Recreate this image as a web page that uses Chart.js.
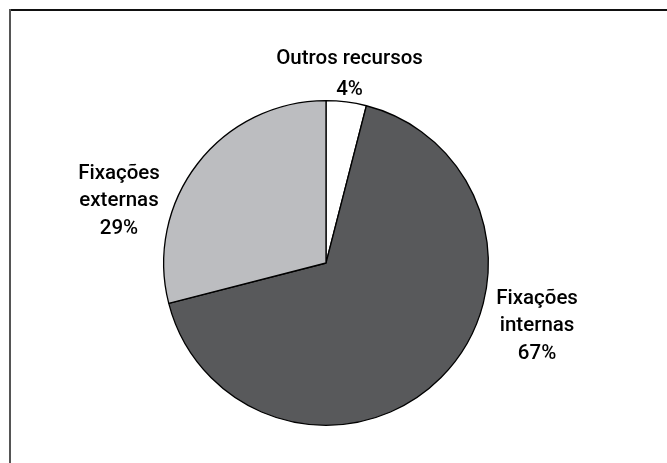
<!DOCTYPE html>
<html><head><meta charset="utf-8">
<script src="https://cdn.jsdelivr.net/npm/chart.js@4"></script>
<style>html,body{margin:0;padding:0;background:#fff}#wrap{width:667px;height:463px;position:relative}</style>
</head><body><div id="wrap"><canvas id="c" width="667" height="463"></canvas></div>
<script>
const categories = ["Outros recursos", "Fixações internas", "Fixações externas"];
const values = [4, 67, 29];
const labelLines = [["Outros recursos", "4%"], ["Fixações", "internas", "67%"], ["Fixações", "externas", "29%"]];
const colors = ["#ffffff", "#58595b", "#bcbdc0"];
// label anchor offsets relative to pie centre, in units of radius
const labelOffsets = [[0.145, -1.163], [1.30, 0.39], [-1.275, -0.38]];

const framePlugin = {
  id: 'frame',
  beforeDraw(chart) {
    const ctx = chart.ctx;
    ctx.save();
    ctx.fillStyle = '#111';
    ctx.fillRect(9, 9, chart.width - 9, 2);
    ctx.fillStyle = '#555';
    ctx.fillRect(9, 9, 2, chart.height - 9);
    ctx.restore();
  }
};
const labelPlugin = {
  id: 'pieLabels',
  afterDraw(chart) {
    const meta = chart.getDatasetMeta(0);
    const ctx = chart.ctx;
    ctx.save();
    ctx.font = '500 20.5px Roboto, "Liberation Sans", Arial, sans-serif';
    ctx.fillStyle = '#000';
    ctx.textAlign = 'center';
    ctx.textBaseline = 'middle';
    const lh = 27.5;
    meta.data.forEach((arc, i) => {
      const r = arc.outerRadius;
      const cx = arc.x + labelOffsets[i][0] * r;
      const cy = arc.y + labelOffsets[i][1] * r;
      const lines = labelLines[i];
      const step = lines.length === 2 ? 31 : lh;
      lines.forEach((t, j) => {
        ctx.fillText(t, cx, cy + (j - (lines.length - 1) / 2) * step);
      });
    });
    ctx.restore();
  }
};

new Chart(document.getElementById('c'), {
  type: 'pie',
  data: {
    labels: categories,
    datasets: [{ data: values, backgroundColor: colors, borderColor: '#000', borderWidth: 1.3 }]
  },
  options: {
    responsive: false,
    animation: false,
    layout: { padding: { top: 100, bottom: 37, left: 0, right: 15 } },
    plugins: { legend: { display: false }, tooltip: { enabled: false } }
  },
  plugins: [framePlugin, labelPlugin]
});
</script></body></html>
